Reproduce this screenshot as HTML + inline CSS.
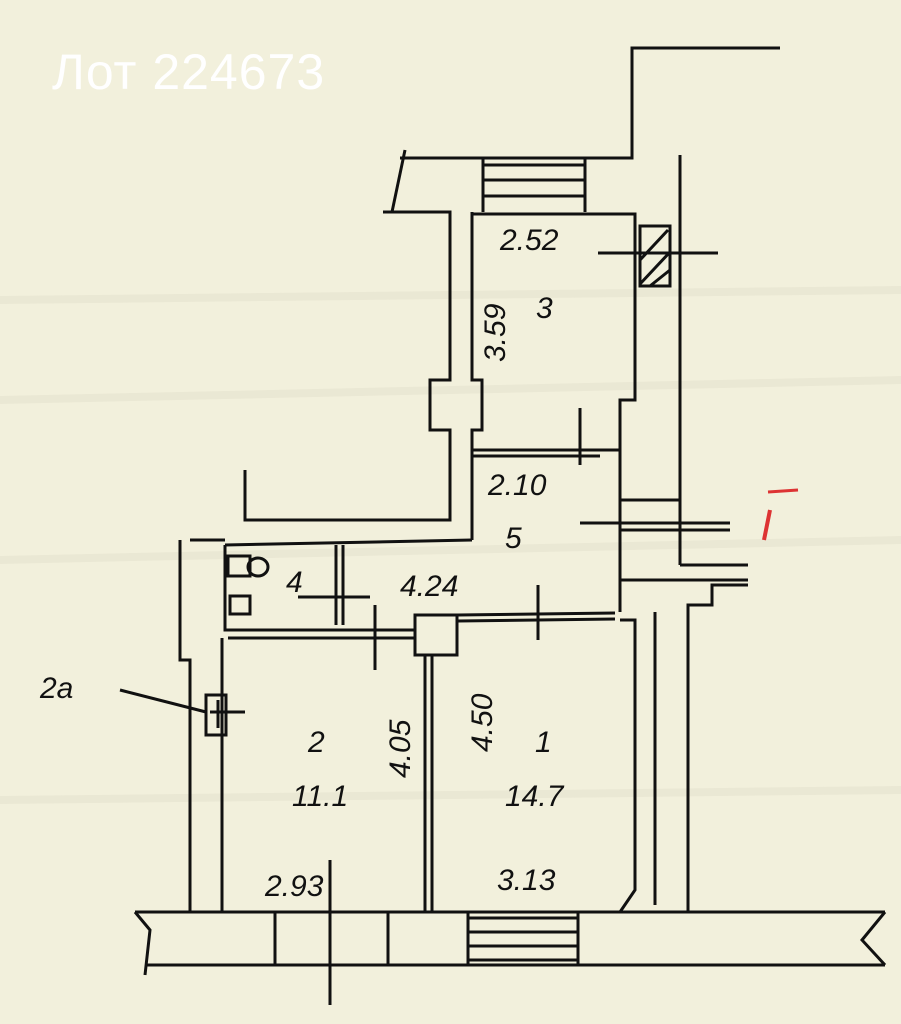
<!DOCTYPE html>
<html><head><meta charset="utf-8"><style>
html,body{margin:0;padding:0;background:#f2f0dc;}
svg{display:block}
text{font-family:"Liberation Sans",sans-serif;fill:#111;font-style:italic}
</style></head><body>
<svg width="901" height="1024" viewBox="0 0 901 1024" xmlns="http://www.w3.org/2000/svg">
<rect width="901" height="1024" fill="#f2f0dc"/>
<g stroke="#e6e3cf" stroke-width="8" opacity="0.6">
<line x1="0" y1="300" x2="901" y2="290"/><line x1="0" y1="400" x2="901" y2="380"/>
<line x1="0" y1="560" x2="901" y2="540"/><line x1="0" y1="800" x2="901" y2="790"/>
</g>
<text x="52" y="89" style="font-style:normal;fill:#fff;font-size:50px;letter-spacing:1px">Лот 224673</text>
<g stroke="#111" stroke-width="3" fill="none">
<polyline points="780,48 632,48 632,158 400,158"/>
<line x1="405" y1="150" x2="392" y2="212"/>
<line x1="483" y1="165" x2="585" y2="165"/><line x1="483" y1="180" x2="585" y2="180"/><line x1="483" y1="196" x2="585" y2="196"/>
<line x1="483" y1="158" x2="483" y2="212"/><line x1="585" y1="158" x2="585" y2="212"/>
<polyline points="383,212 450,212 450,380 430,380 430,430 450,430 450,520 245,520 245,470"/>
<polyline points="472,212 472,380 482,380 482,430 472,430 472,540"/>
<polyline points="472,214 635,214 635,400 620,400 620,612"/>
<rect x="640" y="226" width="30" height="60"/>
<line x1="640" y1="260" x2="668" y2="230"/><line x1="640" y1="284" x2="670" y2="252"/><line x1="650" y1="286" x2="670" y2="270"/>
<line x1="598" y1="253" x2="718" y2="253"/>
<line x1="680" y1="155" x2="680" y2="565"/>
<polyline points="680,565 748,565"/><polyline points="620,580 748,580"/>
<polyline points="655,612 655,615 655,905"/>
<polyline points="748,585 712,585 712,605 688,605 688,912"/>
<line x1="620" y1="500" x2="680" y2="500"/><line x1="620" y1="530" x2="730" y2="530"/><line x1="580" y1="523" x2="730" y2="523"/>
<line x1="472" y1="450" x2="620" y2="450"/><line x1="472" y1="456" x2="600" y2="456"/>
<line x1="580" y1="408" x2="580" y2="465"/>
<polyline points="225,545 225,630 415,630"/>
<line x1="225" y1="545" x2="472" y2="540"/>
<line x1="336" y1="545" x2="336" y2="625"/><line x1="343" y1="545" x2="343" y2="625"/>
<line x1="298" y1="597" x2="370" y2="597"/>
<line x1="375" y1="605" x2="375" y2="670"/>
<line x1="228" y1="638" x2="415" y2="638"/>
<rect x="228" y="556" width="22" height="20"/><ellipse cx="258" cy="567" rx="10" ry="9"/>
<rect x="230" y="596" width="20" height="18"/>
<rect x="415" y="615" width="42" height="40"/>
<line x1="458" y1="615" x2="615" y2="613"/><line x1="458" y1="621" x2="615" y2="619"/>
<line x1="538" y1="585" x2="538" y2="640"/>
<line x1="425" y1="655" x2="425" y2="912"/><line x1="432" y1="655" x2="432" y2="912"/>
<line x1="222" y1="638" x2="222" y2="912"/>
<polyline points="620,620 635,620 635,890 620,912"/>
<polyline points="180,540 180,660 190,660 190,912"/>
<line x1="190" y1="540" x2="225" y2="540"/>
<rect x="206" y="695" width="20" height="40"/>
<line x1="120" y1="690" x2="206" y2="712"/><line x1="218" y1="700" x2="218" y2="728"/><line x1="210" y1="712" x2="245" y2="712"/>
<line x1="135" y1="912" x2="885" y2="912"/>
<line x1="145" y1="965" x2="885" y2="965"/>
<polyline points="135,912 150,930 145,975"/>
<polyline points="885,912 862,940 885,965"/>
<line x1="275" y1="912" x2="275" y2="965"/><line x1="388" y1="912" x2="388" y2="965"/>
<line x1="468" y1="918" x2="578" y2="918"/><line x1="468" y1="932" x2="578" y2="932"/><line x1="468" y1="946" x2="578" y2="946"/><line x1="468" y1="960" x2="578" y2="960"/>
<line x1="468" y1="912" x2="468" y2="965"/><line x1="578" y1="912" x2="578" y2="965"/>
<line x1="330" y1="860" x2="330" y2="1005"/>
</g>
<g font-size="30">
<text x="500" y="250">2.52</text>
<text x="536" y="318">3</text>
<text x="488" y="495">2.10</text>
<text x="505" y="548">5</text>
<text x="286" y="592">4</text>
<text x="400" y="596">4.24</text>
<text x="40" y="698">2a</text>
<text x="308" y="752">2</text>
<text x="292" y="806">11.1</text>
<text x="535" y="752">1</text>
<text x="505" y="806">14.7</text>
<text x="265" y="896">2.93</text>
<text x="497" y="890">3.13</text>
<text transform="translate(505,362) rotate(-90)">3.59</text>
<text transform="translate(410,778) rotate(-90)">4.05</text>
<text transform="translate(492,752) rotate(-90)">4.50</text>
</g>
<line x1="770" y1="510" x2="764" y2="540" stroke="#d33" stroke-width="4"/>
<line x1="768" y1="492" x2="798" y2="490" stroke="#d33" stroke-width="3"/>
</svg>
</body></html>
